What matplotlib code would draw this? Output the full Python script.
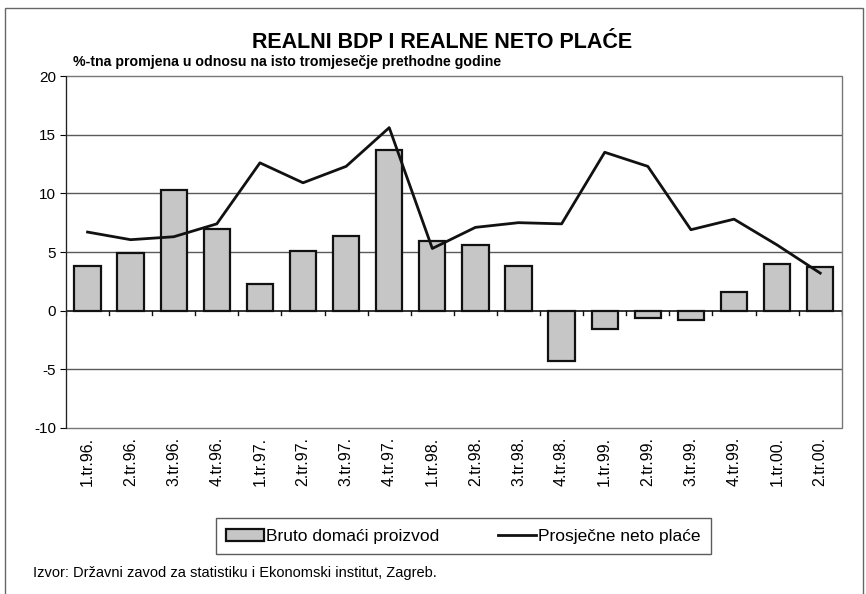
import matplotlib.pyplot as plt
from matplotlib.patches import Rectangle
from matplotlib.lines import Line2D
from matplotlib.transforms import blended_transform_factory
import numpy as np

plt.rcParams["font.family"] = ["Liberation Sans", "DejaVu Sans"]
plt.rcParams["axes.unicode_minus"] = False

quarters = ["1.tr.96.", "2.tr.96.", "3.tr.96.", "4.tr.96.",
            "1.tr.97.", "2.tr.97.", "3.tr.97.", "4.tr.97.",
            "1.tr.98.", "2.tr.98.", "3.tr.98.", "4.tr.98.",
            "1.tr.99.", "2.tr.99.", "3.tr.99.", "4.tr.99.",
            "1.tr.00.", "2.tr.00."]
bdp = [3.8, 4.9, 10.3, 7.0, 2.3, 5.1, 6.4, 13.7, 5.9,
       5.6, 3.8, -4.3, -1.6, -0.6, -0.8, 1.6, 4.0, 3.7]
place = [6.7, 6.05, 6.3, 7.4, 12.6, 10.9, 12.3, 15.6, 5.3,
         7.1, 7.5, 7.4, 13.5, 12.3, 6.9, 7.8, 5.6, 3.2]
yticks = [-10, -5, 0, 5, 10, 15, 20]

bar_fill = "#c6c6c6"
ink = "#111111"

fig = plt.figure(figsize=(8.66, 5.94), dpi=100)
ax = fig.add_axes([0.0762, 0.2795, 0.8958, 0.5925])

x = np.arange(len(quarters))

# horizontal grid
for v in yticks:
    if v not in (0, -10, 20):
        ax.axhline(v, color="#5a5a5a", lw=1.0, zorder=1)

ax.bar(x, bdp, width=0.61, color=bar_fill, edgecolor=ink,
       linewidth=1.6, zorder=2)
ax.plot(x, place, color=ink, lw=2.0, zorder=3)

ax.set_xlim(-0.5, len(quarters) - 0.5)
ax.set_ylim(-10, 20)
ax.set_yticks(yticks)
ax.tick_params(axis="y", direction="out", length=4, labelsize=11, pad=3)

# plot-area frame
ax.add_patch(Rectangle((0, 0), 1, 1, transform=ax.transAxes, fill=False,
                       edgecolor="#777777", lw=1.0, zorder=4, clip_on=False))
for s in ["top", "right", "bottom"]:
    ax.spines[s].set_visible(False)
ax.spines["left"].set_color("#222222")
ax.spines["left"].set_zorder(5)

# category axis on the zero line
ax.axhline(0, color=ink, lw=1.2, zorder=3)
ax.set_xticks([])
for b in np.arange(len(quarters) + 1) - 0.5:
    ax.plot([b, b], [0, -0.4], color=ink, lw=1.0, zorder=3)

tr = blended_transform_factory(ax.transData, ax.transAxes)
for i, q in enumerate(quarters):
    ax.text(i, -0.025, q, transform=tr, rotation=90, ha="center", va="top",
            fontsize=11.5)

fig.text(0.511, 0.929, "REALNI BDP I REALNE NETO PLAĆE", ha="center",
         va="center", fontsize=15.5, fontweight="bold")
fig.text(0.084, 0.895, "%-tna promjena u odnosu na isto tromjesečje prethodne godine",
         ha="left", va="center", fontsize=10.2, fontweight="bold")

handles = [Rectangle((0, 0), 1, 1, facecolor=bar_fill, edgecolor=ink,
                     linewidth=1.6),
           Line2D([0], [0], color=ink, lw=2.0)]
leg = fig.legend(handles, ["Bruto domaći proizvod", "Prosječne neto plaće"],
                 loc="center", bbox_to_anchor=(0.535, 0.097), ncol=2,
                 fontsize=12.5, frameon=True, fancybox=False, columnspacing=3.4,
                 handlelength=2.2, handletextpad=0.1, borderpad=0.6)
leg.get_frame().set_edgecolor("#333333")
leg.get_frame().set_linewidth(1.0)

fig.text(0.038, 0.035, "Izvor: Državni zavod za statistiku i Ekonomski institut, Zagreb.",
         ha="left", va="center", fontsize=10.5)

# outer frame
fig.add_artist(Rectangle((0.006, -0.01), 0.99, 0.996, transform=fig.transFigure,
                         fill=False, edgecolor="#666666", lw=1.0))

fig.savefig("out.png", dpi=100)
